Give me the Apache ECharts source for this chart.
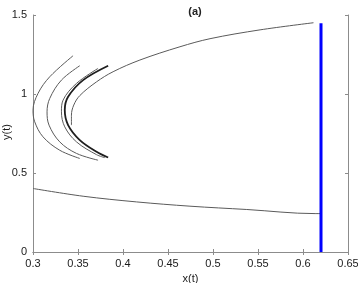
<!DOCTYPE html>
<html>
<head>
<meta charset="utf-8">
<script src="https://cdn.jsdelivr.net/npm/echarts@6/dist/echarts.min.js"></script>
<style>
  html, body { margin: 0; padding: 0; background: #fff; }
  #chart { width: 358px; height: 283px; }
</style>
</head>
<body>
<div id="chart"></div>
<script>
// tick labels
const xTicks = [0.3, 0.35, 0.4, 0.45, 0.5, 0.55, 0.6, 0.65];
const yTicks = [0, 0.5, 1, 1.5];

// trajectories as [x, y]
const outerArc = [
  [0.3445, 1.242], [0.3186, 1.109], [0.3056, 1.004], [0.3000, 0.898],
  [0.3019, 0.824], [0.3111, 0.729], [0.3297, 0.644], [0.3520, 0.592]
];
const secondArc = [
  [0.3520, 1.179], [0.3316, 1.088], [0.3186, 0.972], [0.3156, 0.887],
  [0.3178, 0.803], [0.3297, 0.697], [0.3483, 0.624], [0.3723, 0.581]
];
const thirdArc = [
  [0.3723, 1.162], [0.3483, 1.067], [0.3334, 0.961], [0.3316, 0.887],
  [0.3353, 0.792], [0.3483, 0.697], [0.3706, 0.616], [0.3798, 0.597]
];
const thickArc = [
  [0.3835, 1.179], [0.3557, 1.088], [0.3390, 0.982], [0.3353, 0.898],
  [0.3390, 0.803], [0.3520, 0.708], [0.3706, 0.634], [0.3835, 0.598]
];
const bigCurve = [
  [0.3427, 0.803], [0.3427, 0.866], [0.3453, 0.930], [0.3520, 0.990], [0.3706, 1.077],
  [0.3890, 1.141], [0.4188, 1.215], [0.4633, 1.299], [0.4967, 1.350], [0.5523, 1.406],
  [0.6117, 1.451]
];
const lowCurve = [
  [0.3, 0.402], [0.3557, 0.353], [0.4151, 0.317], [0.4744, 0.290], [0.5375, 0.269],
  [0.6135, 0.243], [0.62, 0.243]
];
const blueLine = [[0.62, 0], [0.62, 1.447]];

const chart = echarts.init(document.getElementById('chart'));

const axisCol = '#8c8c8c';
const fontFam = 'Liberation Sans, Arial';
const labelStyle = { color: '#1a1a1a', fontSize: 11, fontFamily: fontFam };

// thin grey line helper
const grey = (data, w, c) => ({
  type: 'line', data, smooth: 0.35, symbol: 'none',
  lineStyle: { color: c || '#5a5a5a', width: w || 1 }, z: 3
});

chart.setOption({
  animation: false,
  title: {
    text: '(a)', left: 190, top: 1, textAlign: 'center',
    textStyle: { fontSize: 11, fontWeight: 'bold', color: '#222', fontFamily: fontFam }
  },
  grid: { left: 33, right: 10, top: 15, bottom: 31, outerBoundsMode: 'none', containLabel: false },
  xAxis: [{
    type: 'value', min: 0.3, max: 0.65, interval: 0.05,
    name: 'x(t)', nameLocation: 'middle', nameGap: 18,
    nameTextStyle: { fontSize: 11, color: '#1a1a1a', fontFamily: fontFam },
    axisLine: { lineStyle: { color: axisCol } },
    axisTick: { inside: true, length: 3, lineStyle: { color: axisCol } },
    axisLabel: Object.assign({ margin: 6, formatter: v => xTicks.includes(+v.toFixed(2)) ? String(+v.toFixed(2)) : '' }, labelStyle),
    splitLine: { show: false }
  }, {
    type: 'value', position: 'top', min: 0.3, max: 0.65, interval: 0.05,
    axisLine: { lineStyle: { color: axisCol } },
    axisTick: { inside: true, length: 3, lineStyle: { color: axisCol } },
    axisLabel: { show: false }, splitLine: { show: false }
  }],
  yAxis: [{
    type: 'value', min: 0, max: 1.5, interval: 0.5,
    axisLine: { show: true, lineStyle: { color: axisCol } },
    axisTick: { show: true, inside: true, length: 3, lineStyle: { color: axisCol } },
    axisLabel: Object.assign({ margin: 6, formatter: v => yTicks.includes(v) ? String(v) : '' }, labelStyle),
    splitLine: { show: false }
  }, {
    type: 'value', position: 'right', min: 0, max: 1.5, interval: 0.5,
    axisLine: { show: true, lineStyle: { color: axisCol } },
    axisTick: { show: true, inside: true, length: 3, lineStyle: { color: axisCol } },
    axisLabel: { show: false }, splitLine: { show: false }
  }],
  graphic: [{
    type: 'text', x: 7, y: 132, rotation: Math.PI / 2,
    style: { text: 'y(t)', fill: '#1a1a1a', font: '11px ' + fontFam, align: 'center', verticalAlign: 'middle' }
  }],
  series: [
    grey(outerArc),
    grey(secondArc),
    grey(thirdArc),
    grey(thickArc, 1.8, '#1e1e1e'),
    grey(bigCurve),
    grey(lowCurve),
    {
      type: 'line', data: blueLine, symbol: 'none',
      lineStyle: { color: '#0000ff', width: 3 }, z: 4
    }
  ]
});
</script>
</body>
</html>
